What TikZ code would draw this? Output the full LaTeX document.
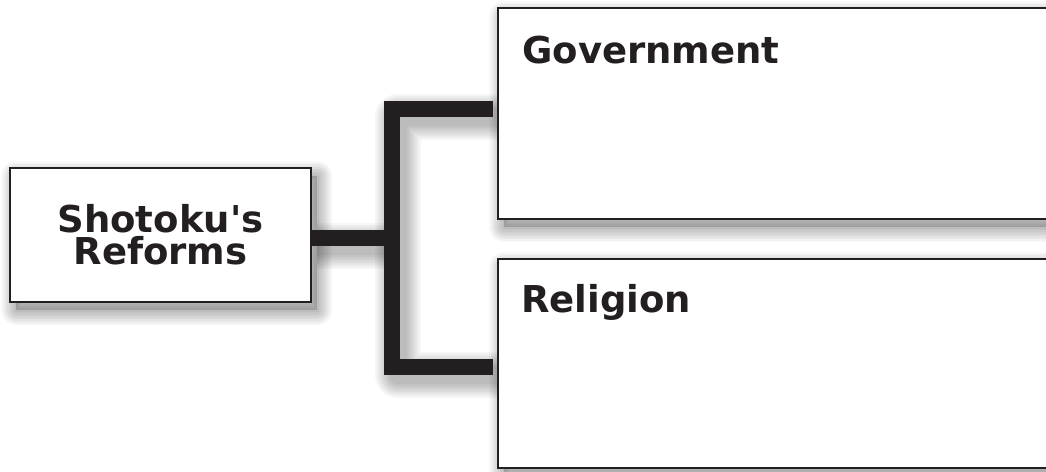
\documentclass[tikz,border=0pt]{standalone}
\usepackage{fontspec}
\setmainfont{DejaVu Sans}
\definecolor{ink}{RGB}{35,31,32}
\pgfdeclarelayer{back}
\pgfdeclarelayer{shade}
\pgfsetlayers{back,shade,main}
\newcommand\boxshade[1]{%
  \fill[black,opacity=0.16] ([xshift=6pt,yshift=-8pt]#1.north west) rectangle ([xshift=6pt,yshift=-8pt]#1.south east);
  \foreach \w in {3,6,9,12,15,18,21,24,27,30}{%
    \draw[black,opacity=0.028,line width=\w pt,line join=round] ([xshift=6pt,yshift=-8pt]#1.north west) rectangle ([xshift=6pt,yshift=-8pt]#1.south east);}%
}
\begin{document}
\begin{tikzpicture}[x=1pt,y=-1pt,
  box/.style={draw=ink, line width=2.6pt, fill=white, rectangle, inner sep=0pt, outer sep=0pt},
  bigtext/.style={font=\bfseries\fontsize{37}{32}\selectfont, text=ink, inner sep=0pt},
  bracket/.style={draw=ink, line width=16pt, line join=miter},
  bshadow/.style={draw=black, opacity=0.035, line join=round}]
\useasboundingbox (0,0) rectangle (1046,471);
\clip (0,0) rectangle (1046,471);
\begin{pgfonlayer}{back}
\fill[white] (0,0) rectangle (1046,471);
\end{pgfonlayer}
% junction coordinates
\coordinate (j) at (392,238);
\coordinate (ga) at (493,109);
\coordinate (ra) at (493,367);
\coordinate (st) at (311,238);
% boxes
\node[box, bigtext, align=center, minimum width=301pt, minimum height=134pt] (src) at (160.5,235) {Shotoku\textquotesingle s\\Reforms};
\node[box, anchor=north west, minimum width=572pt, minimum height=211pt] (gov) at (498,8) {};
\node[box, anchor=north west, minimum width=572pt, minimum height=209pt] (rel) at (498,259) {};
\node[bigtext, anchor=base west] (govt) at (522,63) {Government};
\node[bigtext, anchor=base west] (relt) at (521,312) {Religion};
% soft shadows
\begin{pgfonlayer}{shade}
\boxshade{src}
\boxshade{gov}
\boxshade{rel}
\foreach \w in {46,42,38,34,30,26,22,18}{
  \draw[bshadow, line width=\w pt] ([xshift=6pt,yshift=-8pt]ga) -| ([xshift=6pt,yshift=-8pt]j) |- ([xshift=6pt,yshift=-8pt]ra);
  \draw[bshadow, line width=\w pt] ([xshift=6pt,yshift=-8pt]st) -- ([xshift=6pt,yshift=-8pt]j);
}
\end{pgfonlayer}
% bracket
\draw[bracket] (ga) -| (j) |- (ra);
\draw[bracket] (src.east |- j) -- (j);
\end{tikzpicture}
\end{document}
